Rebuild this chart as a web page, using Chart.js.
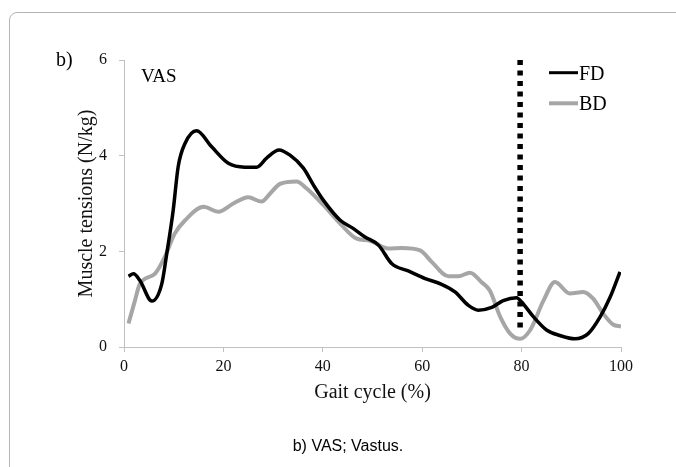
<!DOCTYPE html>
<html><head><meta charset="utf-8">
<script src="https://cdn.jsdelivr.net/npm/chart.js@4.4.1/dist/chart.umd.min.js"></script>
<style>
html,body{margin:0;padding:0;background:#fff;overflow:hidden;}
#wrap{position:relative;width:676px;height:467px;}
#frame{position:absolute;left:9px;top:12px;width:740px;height:540px;border:1px solid #b4b4b4;border-radius:8px;box-sizing:border-box;}
canvas{position:absolute;left:0;top:0;}
</style></head><body>
<div id="wrap"><div id="frame"></div><canvas id="c" width="676" height="467"></canvas></div>
<script>
// Gait cycle (%) and muscle tension (N/kg)
const fdGait =    [0.9, 1.9, 3.2, 5.6, 7.6, 8.6, 9.9, 10.9, 12.3, 14.6, 17.6, 21.0, 24.3, 26.7, 28.7, 31.2, 33.4, 36.1, 38.1, 40.1, 43.5, 46.1, 48.5, 51.2, 53.9, 57.2, 60.6, 63.9, 66.6, 69.3, 71.3, 74.0, 76.3, 79.0, 80.0, 82.4, 85.1, 87.7, 90.7, 93.4, 95.8, 97.8, 99.8];
const fdTension = [1.48, 1.53, 1.39, 0.96, 1.32, 1.95, 2.86, 3.77, 4.26, 4.52, 4.19, 3.84, 3.76, 3.76, 3.95, 4.12, 4.01, 3.74, 3.39, 3.07, 2.65, 2.48, 2.30, 2.13, 1.74, 1.59, 1.43, 1.31, 1.15, 0.87, 0.77, 0.83, 0.97, 1.03, 0.94, 0.63, 0.35, 0.24, 0.17, 0.28, 0.63, 1.04, 1.57];
const bdGait =    [0.9, 2.2, 3.2, 6.2, 8.2, 10.2, 12.3, 16.0, 19.0, 22.0, 25.0, 27.7, 29.4, 31.4, 34.7, 36.7, 40.1, 43.5, 46.7, 49.5, 53.2, 55.9, 59.6, 61.9, 65.3, 67.3, 69.6, 71.9, 73.6, 75.7, 77.7, 79.7, 81.7, 84.4, 86.7, 89.7, 92.4, 94.4, 96.4, 98.4, 100];
const bdTension = [0.49, 0.97, 1.32, 1.53, 1.88, 2.37, 2.65, 2.93, 2.83, 3.00, 3.13, 3.04, 3.21, 3.41, 3.46, 3.32, 2.97, 2.58, 2.27, 2.22, 2.06, 2.07, 2.02, 1.78, 1.48, 1.48, 1.55, 1.36, 1.18, 0.63, 0.28, 0.17, 0.35, 0.97, 1.36, 1.12, 1.15, 1.01, 0.70, 0.47, 0.43];
const markerGait = [79.7, 79.7];
const markerTension = [6, 0.3];
const seriesNames = ['FD', 'BD'];
const xTicks = [0, 20, 40, 60, 80, 100];
const yTicks = [0, 2, 4, 6];
const panelLabel = 'b)';
const panelName = 'VAS';
const xTitle = 'Gait cycle (%)';
const yTitle = 'Muscle tensions (N/kg)';
const caption = 'b) VAS; Vastus.';

const toPts = (xs, ys) => xs.map((x, i) => ({x: x, y: ys[i]}));
const SERIF = '"Liberation Serif", "Times New Roman", serif';

const extras = {
  id: 'extras',
  afterDraw(chart) {
    const ctx = chart.ctx;
    ctx.save();
    ctx.fillStyle = '#000';
    ctx.textAlign = 'left';
    ctx.textBaseline = 'alphabetic';
    ctx.font = '20px ' + SERIF;
    ctx.fillText(panelLabel, 56, 66);
    ctx.font = '19px ' + SERIF;
    ctx.fillText(panelName, 141, 82);
    // legend
    const legendY = [72.7, 103.3];
    chart.data.datasets.slice(0, 2).forEach((d, i) => {
      ctx.strokeStyle = d.borderColor;
      ctx.lineWidth = i === 0 ? 3 : 4;
      ctx.beginPath();
      ctx.moveTo(549, legendY[i]);
      ctx.lineTo(578, legendY[i]);
      ctx.stroke();
      ctx.fillStyle = '#000';
      ctx.font = '20px ' + SERIF;
      ctx.fillText(d.label, 579, legendY[i] + 7);
    });
    ctx.font = '16px "Liberation Sans", Arial, sans-serif';
    ctx.textAlign = 'center';
    ctx.fillText(caption, 348, 451);
    ctx.restore();
  }
};

new Chart(document.getElementById('c'), {
  type: 'line',
  data: {
    datasets: [
      {label: seriesNames[0], data: toPts(fdGait, fdTension), borderColor: '#000000', borderWidth: 3.5, pointRadius: 0, cubicInterpolationMode: 'monotone', fill: false},
      {label: seriesNames[1], data: toPts(bdGait, bdTension), borderColor: '#a6a6a6', borderWidth: 4, pointRadius: 0, cubicInterpolationMode: 'monotone', fill: false},
      {label: 'marker', data: toPts(markerGait, markerTension), borderColor: '#000000', borderWidth: 5.5, borderDash: [5, 5.5], borderCapStyle: 'butt', pointRadius: 0, tension: 0, fill: false}
    ]
  },
  options: {
    responsive: false,
    animation: false,
    devicePixelRatio: 1,
    layout: {padding: {left: 70, right: 55, top: 60, bottom: 40}},
    plugins: {legend: {display: false}, tooltip: {enabled: false}},
    scales: {
      x: {
        type: 'linear', min: 0, max: 100,
        afterBuildTicks: s => { s.ticks = xTicks.map(v => ({value: v})); },
        afterFit: s => { s.height = 80; },
        grid: {drawOnChartArea: false, drawTicks: true, tickLength: 5, color: '#c0c0c0'},
        border: {color: '#c0c0c0', width: 1},
        ticks: {color: '#111', padding: 5, font: {family: SERIF, size: 16}, maxRotation: 0},
        title: {display: true, text: xTitle, color: '#111', font: {family: SERIF, size: 20}, padding: {top: 0, bottom: 22}}
      },
      y: {
        type: 'linear', min: 0, max: 6,
        afterBuildTicks: s => { s.ticks = yTicks.map(v => ({value: v})); },
        afterFit: s => { s.width = 54; },
        grid: {drawOnChartArea: false, drawTicks: true, tickLength: 5, color: '#c0c0c0'},
        border: {color: '#c0c0c0', width: 1},
        ticks: {color: '#111', padding: 12, font: {family: SERIF, size: 16}},
        title: {display: true, text: yTitle, color: '#111', font: {family: SERIF, size: 20}, padding: {top: 5, bottom: 0}}
      }
    }
  },
  plugins: [extras]
});
</script>
</body></html>
